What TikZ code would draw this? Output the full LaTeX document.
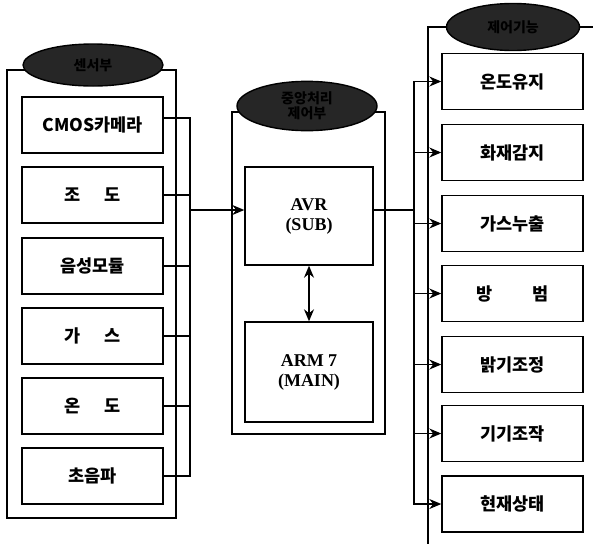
\documentclass[tikz,border=0pt]{standalone}
\usepackage{fontspec}
\setmainfont{Liberation Serif}
\newfontfamily\kr{Noto Sans CJK KR}
\usetikzlibrary{shapes.geometric, arrows.meta}
\begin{document}
\begin{tikzpicture}[x=1pt, y=-1pt, >={Stealth[length=12pt, width=10pt]}, line width=1.4pt,
  part/.style={draw, fill=white, minimum width=141pt, minimum height=56pt, font=\kr\bfseries\fontsize{17.5}{19}\selectfont},
  mcu/.style={draw, fill=white, minimum width=128pt, align=center, font=\bfseries\fontsize{18}{20}\selectfont},
  label/.style={ellipse, draw, fill=black!85, minimum width=140pt, minimum height=42pt, align=center, font=\kr\bfseries\fontsize{14}{15}\selectfont}]
\useasboundingbox[fill=white] (0,0) rectangle (593,544);
% group frames
\draw (7,70) rectangle (176,518);
\draw (232,112) rectangle (385,434);
\draw (593,27) -- (428,27) -- (428,544);
\node[label] (sensor) at (93,65) {센서부};
\node[label, minimum height=47pt] (ctrl) at (307,106) {중앙처리\\제어부};
\node[label, minimum width=133pt, minimum height=47pt] (func) at (513,27) {제어기능};
% inputs
\node[part] (cam) at (92.5,125) {CMOS카메라};
\node[part] (lux) at (92.5,195) {조\hspace{1.4em}도};
\node[part] (voice) at (92.5,266) {음성모듈};
\node[part] (gas) at (92.5,336) {가\hspace{1.4em}스};
\node[part] (temp) at (92.5,406) {온\hspace{1.4em}도};
\node[part] (sonic) at (92.5,476) {초음파};
% controllers
\node[mcu, minimum height=98pt] (avr) at (309,216) {AVR\\(SUB)};
\node[mcu, minimum height=100pt] (arm) at (309,372) {ARM 7\\(MAIN)};
% outputs
\node[part] (keep) at (512.5,81.5) {온도유지};
\node[part] (fire) at (512.5,152.5) {화재감지};
\node[part] (leak) at (512.5,223.5) {가스누출};
\node[part] (guard) at (512.5,293.5) {방\hspace{2.3em}범};
\node[part] (dim) at (512.5,364.5) {밝기조정};
\node[part] (dev) at (512.5,433.5) {기기조작};
\node[part] (state) at (512.5,504) {현재상태};
\coordinate (lbus) at (190,210);
\coordinate (rbus) at (414,210);
\draw ([yshift=7pt]cam.east) -| (lbus);
\draw (lux.east) -| (lbus);
\draw (voice.east) -| (lbus);
\draw (gas.east) -| (lbus);
\draw (temp.east) -| (lbus);
\draw (sonic.east) -| (lbus);
\draw[->] (lbus) -- (lbus -| avr.west);
\draw[<->] (avr) -- (arm);
\draw (avr.east |- rbus) -- (rbus);
\draw[->] (rbus) |- (keep.west);
\draw[->] (rbus) |- (fire.west);
\draw[->] (rbus) |- (leak.west);
\draw[->] (rbus) |- (guard.west);
\draw[->] (rbus) |- (dim.west);
\draw[->] (rbus) |- (dev.west);
\draw[->] (rbus) |- (state.west);
\end{tikzpicture}
\end{document}
